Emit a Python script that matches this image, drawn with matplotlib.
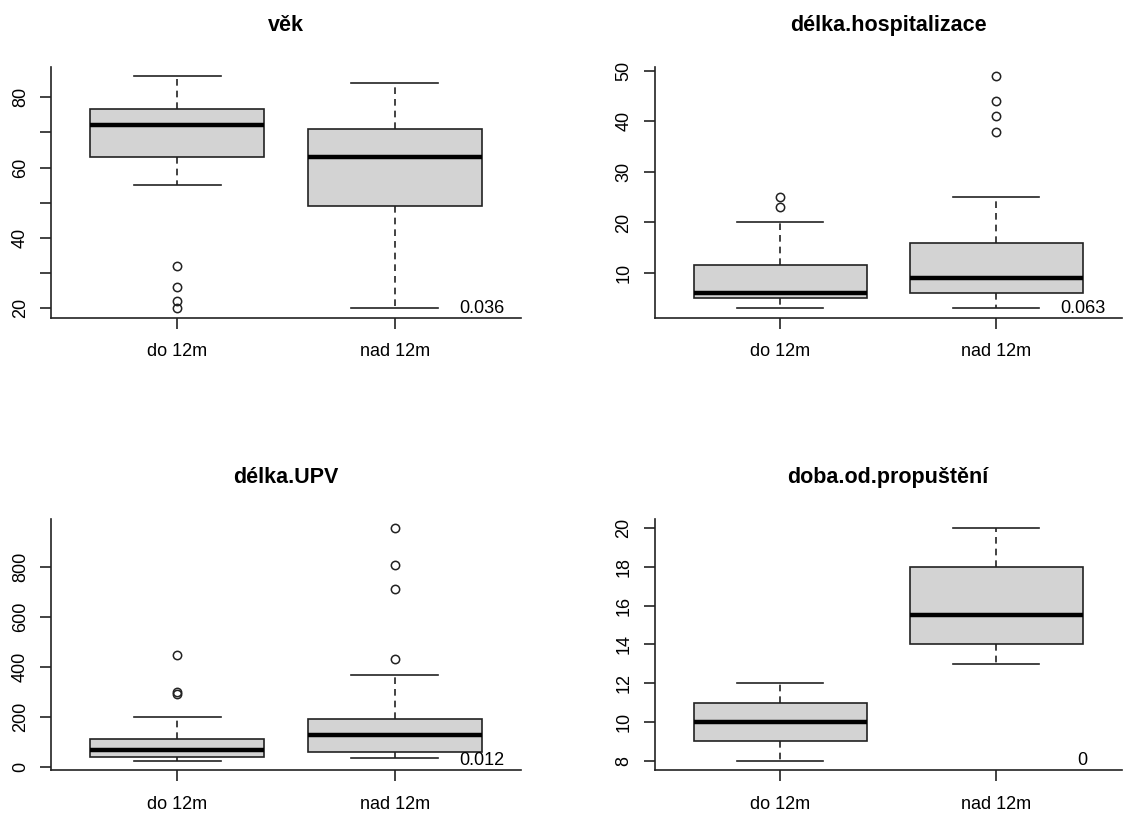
import matplotlib.pyplot as plt

plt.rcParams['font.family'] = ['Liberation Sans', 'DejaVu Sans']

groups = ['do 12m', 'nad 12m']
titles = ['věk', 'délka.hospitalizace', 'délka.UPV', 'doba.od.propuštění']
p_values = ['0.036', '0.063', '0.012', '0']

# box statistics for each variable, one entry per group (do 12m, nad 12m)
vek_lo = [55, 20]
vek_q1 = [63, 49]
vek_med = [72, 63]
vek_q3 = [76.5, 71]
vek_hi = [86, 84]
vek_out = [[32, 26, 22, 20], []]

hosp_lo = [3, 3]
hosp_q1 = [5, 6]
hosp_med = [6, 9]
hosp_q3 = [11.5, 16]
hosp_hi = [20, 25]
hosp_out = [[25, 23], [49, 44, 41, 38]]

upv_lo = [24, 35]
upv_q1 = [37, 57]
upv_med = [67, 125]
upv_q3 = [110, 192]
upv_hi = [200, 368]
upv_out = [[445, 300, 290], [953, 808, 710, 431]]

doba_lo = [8, 13]
doba_q1 = [9, 14]
doba_med = [10, 15.5]
doba_q3 = [11, 18]
doba_hi = [12, 20]
doba_out = [[], []]

yticks = [list(range(20, 81, 10)), list(range(10, 51, 10)),
          list(range(0, 801, 200)), list(range(8, 21, 2))]
ytick_labels = [['20', '', '40', '', '60', '', '80'],
                ['10', '20', '30', '40', '50'],
                ['0', '200', '400', '600', '800'],
                ['8', '10', '12', '14', '16', '18', '20']]

variables = [
    (vek_lo, vek_q1, vek_med, vek_q3, vek_hi, vek_out),
    (hosp_lo, hosp_q1, hosp_med, hosp_q3, hosp_hi, hosp_out),
    (upv_lo, upv_q1, upv_med, upv_q3, upv_hi, upv_out),
    (doba_lo, doba_q1, doba_med, doba_q3, doba_hi, doba_out),
]

# panel rectangles in figure fractions: left, bottom, width, height
panels = [(0.0453, 0.6107, 0.4174, 0.3076), (0.5814, 0.6107, 0.4147, 0.3076),
          (0.0453, 0.0564, 0.4174, 0.3076), (0.5814, 0.0564, 0.4147, 0.3076)]

edge = '#222222'
fig = plt.figure(figsize=(11.26, 8.16), dpi=100)

for k in range(4):
    lo, q1, med, q3, hi, out = variables[k]
    ax = fig.add_axes(panels[k])
    stats = []
    for i in range(2):
        stats.append({'whislo': lo[i], 'q1': q1[i], 'med': med[i], 'q3': q3[i],
                      'whishi': hi[i], 'fliers': out[i], 'label': groups[i]})
    ax.bxp(stats, positions=[1, 2], widths=0.8, capwidths=0.4, patch_artist=True,
           boxprops=dict(facecolor='#d3d3d3', edgecolor=edge, linewidth=1.2),
           medianprops=dict(color='black', linewidth=3.2, solid_capstyle='butt'),
           whiskerprops=dict(color=edge, linewidth=1.2, linestyle=(0, (4, 3))),
           capprops=dict(color=edge, linewidth=1.2),
           flierprops=dict(marker='o', markerfacecolor='none', markeredgecolor=edge,
                           markersize=6, markeredgewidth=1.1))

    # R-style range: data extent plus 4% on each side
    all_vals = lo + hi + [v for o in out for v in o]
    ymin, ymax = min(all_vals), max(all_vals)
    pad = (ymax - ymin) * 0.04
    ax.set_ylim(ymin - pad, ymax + pad)
    ax.set_xlim(0.42, 2.58)

    ax.text(2.4, ymin, p_values[k], ha='center', va='center', fontsize=13)

    ax.set_title(titles[k], fontsize=15.5, fontweight='bold', pad=26)
    ax.set_xticks([1, 2])
    ax.set_xticklabels(groups, fontsize=13)
    ax.set_yticks(yticks[k])
    ax.set_yticklabels(ytick_labels[k], fontsize=13, rotation=90, va='center')
    ax.tick_params(axis='x', direction='out', length=8, width=1.2, pad=10.5, color=edge)
    ax.tick_params(axis='y', direction='out', length=8, width=1.2, pad=8, color=edge)
    ax.spines['top'].set_visible(False)
    ax.spines['right'].set_visible(False)
    ax.spines['left'].set_linewidth(1.2)
    ax.spines['bottom'].set_linewidth(1.2)
    ax.spines['left'].set_color(edge)
    ax.spines['bottom'].set_color(edge)

plt.savefig('out.png')
